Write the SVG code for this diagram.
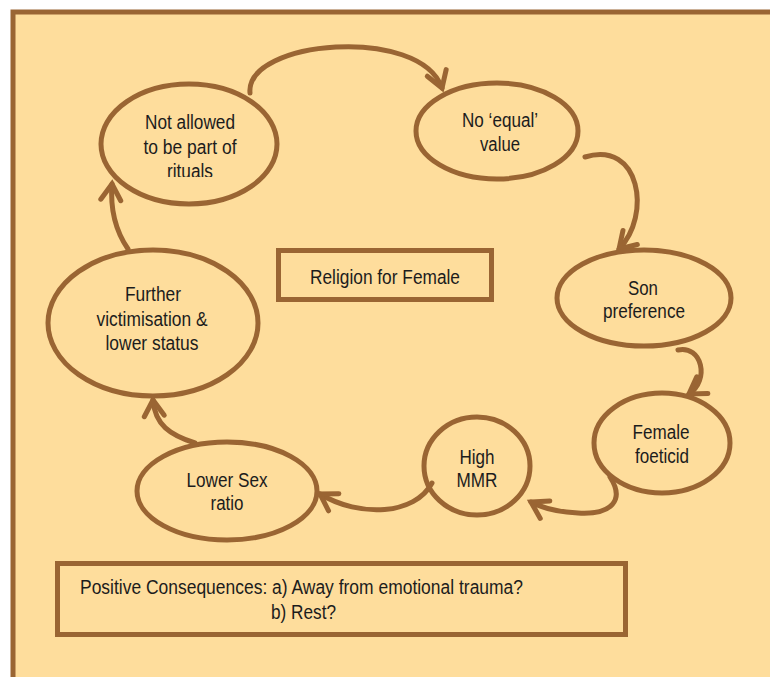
<svg xmlns="http://www.w3.org/2000/svg" width="770" height="677" viewBox="0 0 770 677">
  <style>
    .frame { fill: #fedd9c; stroke: #9a6533; stroke-width: 5; }
    .node ellipse, .box rect { fill: none; stroke: #9a6533; stroke-width: 5; }
    .connectors path { fill: none; stroke: #9a6533; stroke-width: 5; stroke-linecap: round; marker-end: url(#chevron); }
    text { font-family: "Liberation Sans", Arial, Helvetica, sans-serif; font-size: 19.5px; fill: #1c1c1c; text-anchor: middle; }
    .left { text-anchor: start; }
  </style>
  <defs>
    <marker id="chevron" markerUnits="userSpaceOnUse" viewBox="-20 -14 26 28" refX="0" refY="0" markerWidth="26" markerHeight="28" orient="auto" overflow="visible">
      <path d="M-16,-10 L0,0 L-16,10" fill="none" stroke="#9a6533" stroke-width="5" stroke-linecap="round" stroke-linejoin="miter"/>
    </marker>
    <clipPath id="ritualsClip">
      <rect x="100" y="150" width="180" height="27"/>
    </clipPath>
  </defs>

  <!-- background panel -->
  <rect class="frame" x="13" y="12" width="800" height="700"/>

  <!-- cycle connectors -->
  <g id="connectors" class="connectors">
    <path d="M250,93 C245,40 420,25 442,88"/>
    <path d="M585,157 C640,140 652,215 619,249"/>
    <path d="M678,350 C702,345 710,380 689,394"/>
    <path d="M610,477 C625,500 612,515 578,513 C557,512 542,508 531,502"/>
    <path d="M432,483 C415,515 360,518 320,494"/>
    <path d="M195,443 C170,435 155,425 153,400"/>
    <path d="M128,249 C115,230 110,210 112,184"/>
  </g>

  <g id="node-rituals" class="node">
    <ellipse cx="189" cy="144" rx="88" ry="60"/>
    <text x="190" y="129" textLength="90" lengthAdjust="spacingAndGlyphs">Not allowed</text>
    <text x="190" y="154" textLength="93" lengthAdjust="spacingAndGlyphs">to be part of</text>
    <text x="190" y="178" textLength="46" lengthAdjust="spacingAndGlyphs" clip-path="url(#ritualsClip)">rituals</text>
  </g>

  <g id="node-equal" class="node">
    <ellipse cx="497" cy="131" rx="81" ry="48"/>
    <text x="500" y="127" textLength="76" lengthAdjust="spacingAndGlyphs">No ‘equal’</text>
    <text x="500" y="151" textLength="40" lengthAdjust="spacingAndGlyphs">value</text>
  </g>

  <g id="node-son" class="node">
    <ellipse cx="644" cy="298" rx="87" ry="48"/>
    <text x="643" y="295" textLength="30" lengthAdjust="spacingAndGlyphs">Son</text>
    <text x="644" y="318" textLength="82" lengthAdjust="spacingAndGlyphs">preference</text>
  </g>

  <g id="node-foeticid" class="node">
    <ellipse cx="662" cy="443" rx="68" ry="50"/>
    <text x="661" y="439" textLength="57" lengthAdjust="spacingAndGlyphs">Female</text>
    <text x="662" y="463" textLength="54" lengthAdjust="spacingAndGlyphs">foeticid</text>
  </g>

  <g id="node-mmr" class="node">
    <ellipse cx="477" cy="466" rx="53" ry="49"/>
    <text x="477" y="464" textLength="35" lengthAdjust="spacingAndGlyphs">High</text>
    <text x="477" y="487" textLength="41" lengthAdjust="spacingAndGlyphs">MMR</text>
  </g>

  <g id="node-sexratio" class="node">
    <ellipse cx="227" cy="491" rx="90" ry="49"/>
    <text x="227" y="487" textLength="81" lengthAdjust="spacingAndGlyphs">Lower Sex</text>
    <text x="227" y="510" textLength="33" lengthAdjust="spacingAndGlyphs">ratio</text>
  </g>

  <g id="node-victimisation" class="node">
    <ellipse cx="153" cy="323" rx="105" ry="73"/>
    <text x="153" y="301" textLength="56" lengthAdjust="spacingAndGlyphs">Further</text>
    <text x="152" y="326" textLength="111" lengthAdjust="spacingAndGlyphs">victimisation &amp;</text>
    <text x="152" y="350" textLength="93" lengthAdjust="spacingAndGlyphs">lower status</text>
  </g>

  <g id="node-religion" class="box">
    <rect x="278.5" y="250.5" width="213" height="49"/>
    <text x="385" y="284" textLength="150" lengthAdjust="spacingAndGlyphs">Religion for Female</text>
  </g>

  <g id="node-consequences" class="box">
    <rect x="57.5" y="563.5" width="568" height="71"/>
    <text class="left" x="80" y="594" textLength="443" lengthAdjust="spacingAndGlyphs">Positive Consequences: a) Away from emotional trauma?</text>
    <text class="left" x="271" y="619" textLength="65" lengthAdjust="spacingAndGlyphs">b) Rest?</text>
  </g>
</svg>
